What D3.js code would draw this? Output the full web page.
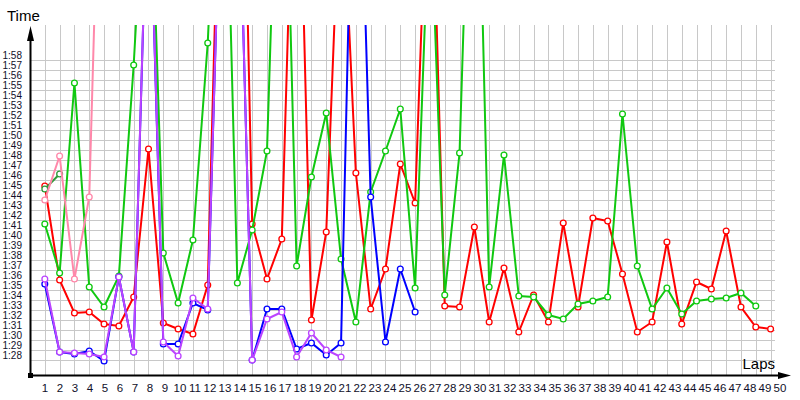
<!DOCTYPE html>
<html><head><meta charset="utf-8">
<script src="https://cdn.jsdelivr.net/npm/d3@7"></script>
<style>body{margin:0;background:#fff}svg{display:block}</style>
</head><body>
<svg id="c" width="800" height="400"></svg>
<script>
// lap numbers (x categories)
const laps = d3.range(1, 51);
// y tick values (seconds) -> labels 1:28 ... 1:58
const yTicks = d3.range(88, 119);
// lap times in seconds, index 0 = lap 1 (values above the top are pit/slow laps)
const redTimes = [105.4,96.0,92.7,92.8,91.6,91.4,94.3,109.1,91.7,91.1,90.6,95.5,150,170,101.6,96.1,100.1,150.4,92.0,100.8,138.6,106.7,93.1,97.1,107.6,103.7,145,93.4,93.3,101.3,91.8,97.2,90.8,94.5,91.8,101.7,93.3,102.2,101.9,96.6,90.8,91.8,99.8,91.6,95.8,95.1,100.9,93.3,91.3,91.1];
const greenTimes = [101.6,96.7,115.7,95.3,93.3,96.4,117.5,144,98.7,93.7,100.0,119.7,152.9,95.7,101.0,108.9,155.6,97.4,106.3,112.7,98.1,91.8,104.8,108.9,113.1,95.2,135.4,94.5,108.7,156,95.3,108.5,94.4,94.3,92.5,92.1,93.6,93.9,94.3,112.6,97.4,93.1,95.2,92.6,93.9,94.1,94.2,94.7,93.4];
const darkGreenTimes = [105.1,106.6];
const pinkTimes = [104.0,108.4,96.1,104.3,156.3];
const blueTimes = [95.6,88.8,88.6,88.9,87.9,96.3,88.8,140,89.6,89.6,93.7,93.0,143.3,143,88.0,93.1,93.1,89.1,89.7,88.5,89.7,154.6,104.3,89.8,97.1,92.8];
const violetTimes = [96.1,88.8,88.7,88.6,88.3,96.3,88.8,140.3,89.8,88.4,94.2,93.1,143.3,143,88.0,92.1,92.8,88.3,90.7,89.0,88.3];

const series = [
  {name:"red", color:"#ff0000", values:redTimes},
  {name:"green", color:"#10c810", values:greenTimes},
  {name:"darkgreen", color:"#2e9a3a", values:darkGreenTimes},
  {name:"pink", color:"#ff88aa", values:pinkTimes},
  {name:"blue", color:"#0000ff", values:blueTimes},
  {name:"violet", color:"#bb44ff", values:violetTimes}
];

const svg = d3.select("#c");
const x = d3.scaleLinear().domain([0, 50]).range([30, 770.6]);
const xLab = d3.scaleLinear().domain([1, 50]).range([45, 780]);
const y = d3.scaleLinear().domain([86.5, 121.5]).range([375, 25]);
const fmt = s => { const m = Math.floor(s/60), r = Math.round(s - m*60); return m + ":" + String(r).padStart(2,"0"); };

svg.append("defs").append("clipPath").attr("id","clip")
  .append("rect").attr("x",30).attr("y",y(121.5)).attr("width",770).attr("height",y(86.5)-y(121.5));

// grid
const grid = svg.append("g").attr("stroke","#c8c8c8").attr("stroke-width",1).attr("shape-rendering","crispEdges");
grid.selectAll("line.h").data(yTicks).join("line")
  .attr("x1",30).attr("x2",775).attr("y1",d=>Math.round(y(d))+0.5).attr("y2",d=>Math.round(y(d))+0.5);
grid.selectAll("line.v").data(laps).join("line")
  .attr("y1",y(121.5)).attr("y2",375).attr("x1",d=>Math.round(x(d))+0.5).attr("x2",d=>Math.round(x(d))+0.5);

// y tick labels
svg.append("g").selectAll("text").data(yTicks).join("text")
  .attr("x",22).attr("y",d=>Math.round(y(d))-1.5).attr("text-anchor","end")
  .attr("font-family","Liberation Sans, Arial, sans-serif").attr("font-size",10).attr("fill","#10102a")
  .text(fmt);

// x tick labels
svg.append("g").selectAll("text").data(laps).join("text")
  .attr("x",d=>xLab(d)).attr("y",392).attr("text-anchor","middle")
  .attr("font-family","Liberation Sans, Arial, sans-serif").attr("font-size",11.5).attr("fill","#10102a")
  .text(d=>d);

// series
const line = d3.line().x((d,i)=>x(i+1)).y(d=>y(d));
const plot = svg.append("g").attr("clip-path","url(#clip)");
series.forEach(s => {
  const g = plot.append("g");
  g.append("path").datum(s.values).attr("d",line)
    .attr("fill","none").attr("stroke",s.color).attr("stroke-width",2).attr("stroke-linejoin","miter").attr("stroke-miterlimit",4);
  g.selectAll("circle").data(s.values).join("circle")
    .attr("cx",(d,i)=>x(i+1)).attr("cy",d=>y(d)).attr("r",2.9)
    .attr("fill","#fff").attr("stroke",s.color).attr("stroke-width",1.3);
});

// axes
const ax = svg.append("g");
ax.append("line").attr("x1",30.5).attr("x2",30.5).attr("y1",375).attr("y2",32).attr("stroke","#000").attr("stroke-width",2);
ax.append("path").attr("d","M27,41 L30.5,26 L34,41 Z").attr("fill","#000");
ax.append("line").attr("x1",30).attr("x2",782).attr("y1",375.5).attr("y2",375.5).attr("stroke","#000").attr("stroke-width",2);
ax.append("path").attr("d","M778,372 L791,375.5 L778,379 Z").attr("fill","#000");
ax.append("rect").attr("x",28).attr("y",373).attr("width",5).attr("height",5).attr("fill","#000");

svg.append("text").attr("x",7).attr("y",21).attr("font-family","Liberation Sans, Arial, sans-serif")
  .attr("font-size",15).attr("fill","#000").text("Time");
svg.append("text").attr("x",775).attr("y",369).attr("text-anchor","end").attr("font-family","Liberation Sans, Arial, sans-serif")
  .attr("font-size",15).attr("fill","#000").text("Laps");
</script>
</body></html>
